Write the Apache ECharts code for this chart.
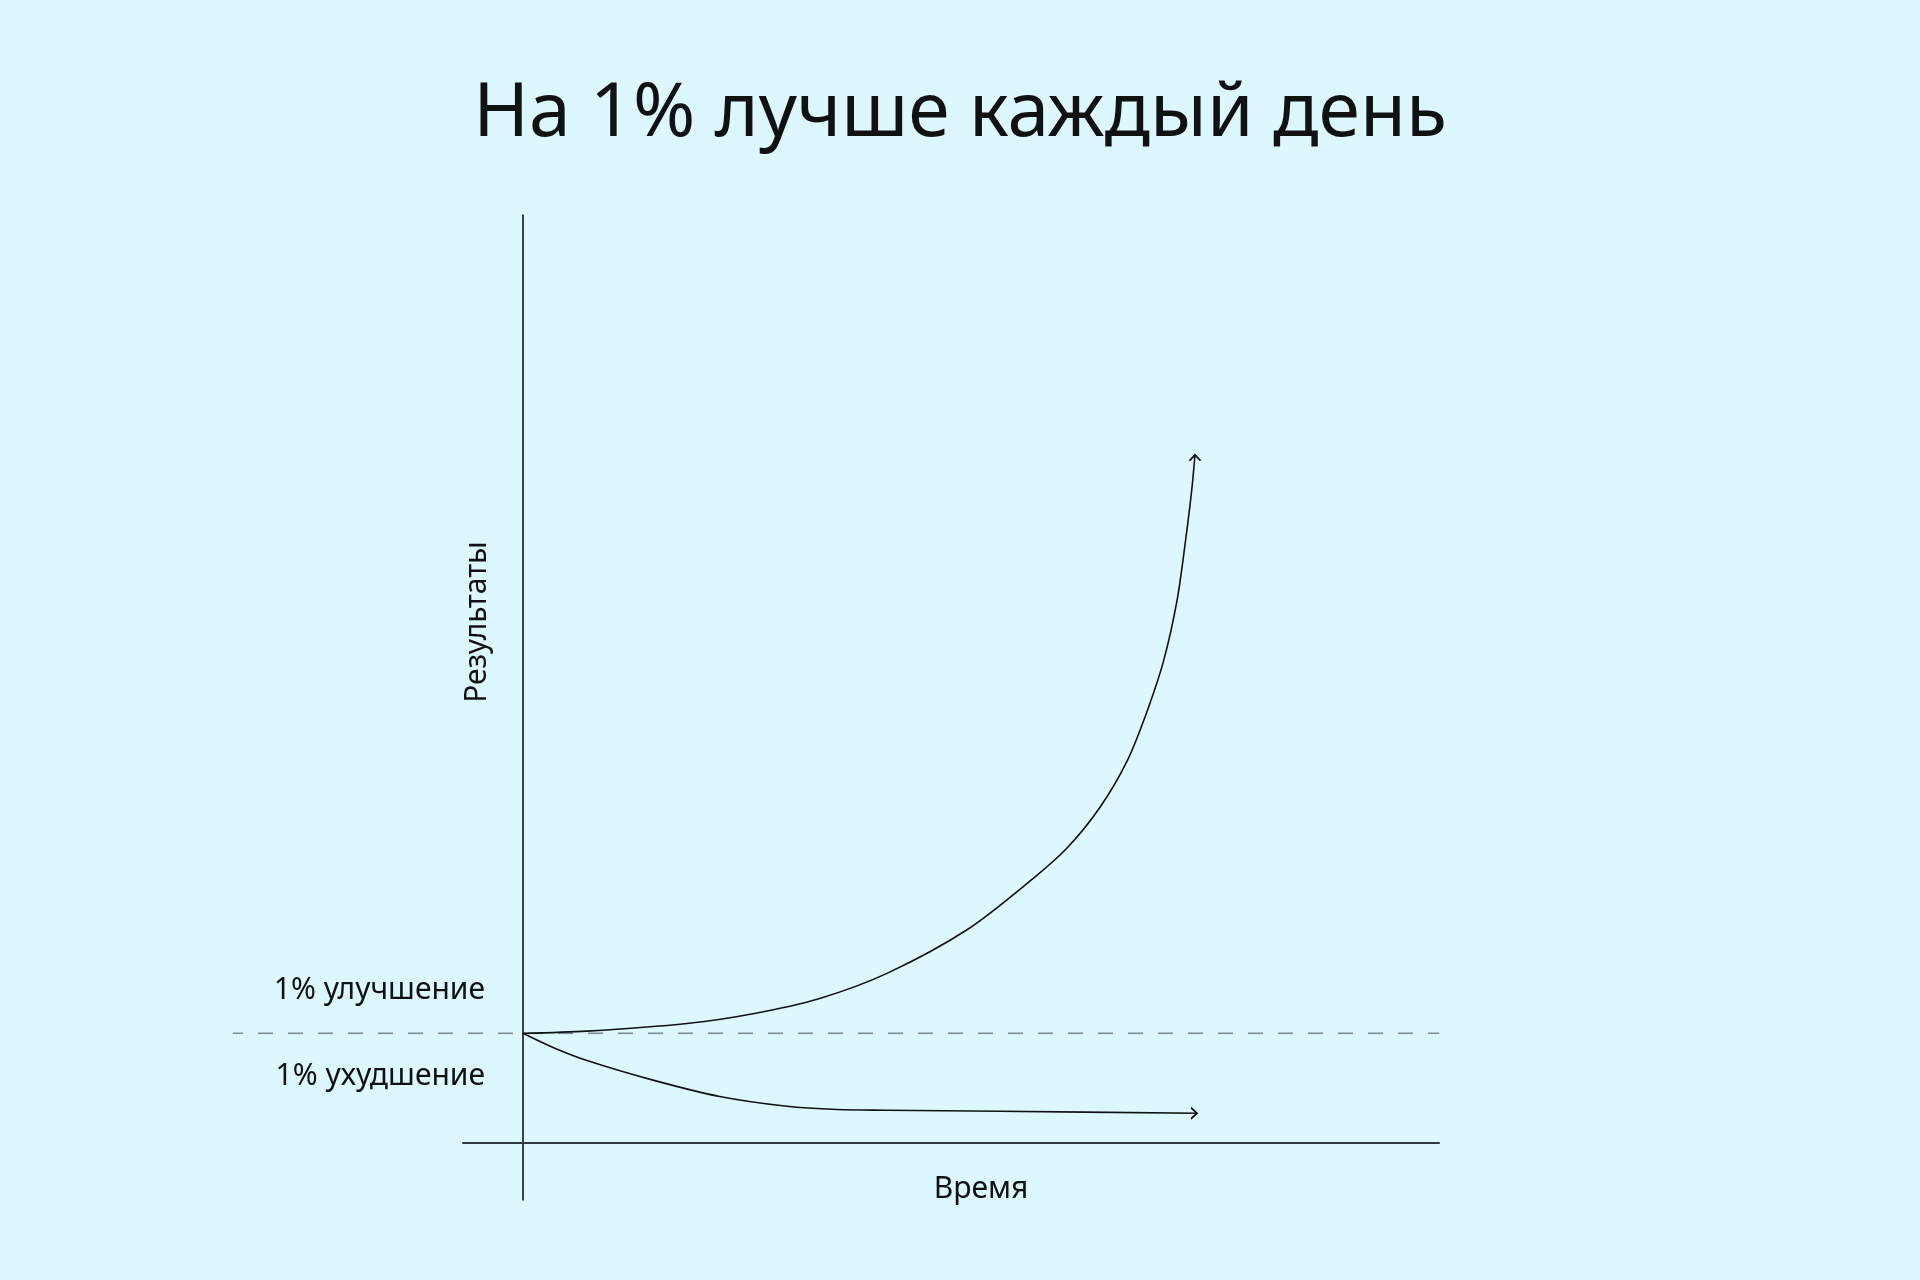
<!DOCTYPE html>
<html>
<head>
<meta charset="utf-8">
<title>На 1% лучше каждый день</title>
<script src="https://cdn.jsdelivr.net/npm/echarts@6/dist/echarts.min.js"></script>
<style>
    html, body { margin: 0; padding: 0; background: #dcf7fe; }
    #chart { width: 1920px; height: 1280px; }
</style>
</head>
<body>
<div id="chart"></div>
<script>
// время (условные единицы), кривая идёт от 0 до ~101
const upTime = [0, 9.6, 24.6, 34.5, 44.5, 54.6, 66.6, 76.5, 81.6, 86.5, 90.7, 93.7, 96.1, 98.1, 99.4, 100.3, 100.8];
const upValue = [1.0, 1.02, 1.09, 1.18, 1.32, 1.55, 1.95, 2.42, 2.70, 3.07, 3.51, 3.97, 4.42, 4.97, 5.53, 5.98, 6.31];

const downTime = [0, 4.5, 9.6, 19.5, 29.5, 39.6, 47.1, 54.6, 71.5, 101.1];
const downValue = [1.0, 0.87, 0.75, 0.57, 0.42, 0.33, 0.30, 0.294, 0.284, 0.266];

// базовый уровень (пунктир), на отдельной сетке шире основной
const baseTime = [0, 1];
const baseValue = [1, 1];

const labelUp = '1% улучшение';
const labelDown = '1% ухудшение';

function pairs(xs, ys) {
    return xs.map((x, i) => [x, ys[i]]);
}

const ink = '#111';
const font = 'Noto Sans';
const yMin = -0.53, yMax = 8.51;

const upData = pairs(upTime, upValue);
upData[upData.length - 1] = {
    value: upData[upData.length - 1],
    symbol: 'path://M0,6 L5.5,0 L11,6',
    symbolSize: [11, 6],
    symbolOffset: [0, 3],
    itemStyle: { color: 'none', borderColor: ink, borderWidth: 1.6 }
};
const downData = pairs(downTime, downValue);
downData[downData.length - 1] = {
    value: downData[downData.length - 1],
    symbol: 'path://M0,0 L6,5.5 L0,11',
    symbolSize: [6, 11],
    symbolOffset: [-3, 0],
    itemStyle: { color: 'none', borderColor: ink, borderWidth: 1.6 }
};

const hidden = {
    axisLine: { show: false },
    axisTick: { show: false },
    axisLabel: { show: false },
    splitLine: { show: false }
};

const myChart = echarts.init(document.getElementById('chart'));
const option = {
    backgroundColor: '#dcf7fe',
    animation: false,
    title: {
        text: 'На 1% лучше каждый день',
        left: 'center',
        top: 72,
        textStyle: { fontFamily: font, fontSize: 75, fontWeight: 400, color: ink }
    },
    grid: [
        { left: 463, right: 481, top: 215, bottom: 80 },
        { left: 233, right: 481, top: 215, bottom: 80 }
    ],
    xAxis: [
        {
            type: 'value',
            min: -9,
            max: 137.4,
            axisLine: { show: true, onZero: true, lineStyle: { color: '#2b3a3b', width: 2 } },
            axisTick: { show: false },
            axisLabel: { show: false },
            splitLine: { show: false }
        },
        Object.assign({ type: 'value', gridIndex: 1, min: 0, max: 1 }, hidden)
    ],
    yAxis: [
        {
            type: 'value',
            min: yMin,
            max: yMax,
            axisLine: { show: true, onZero: true, lineStyle: { color: ink, width: 1.6 } },
            axisTick: { show: false },
            axisLabel: { show: false },
            splitLine: { show: false }
        },
        Object.assign({ type: 'value', gridIndex: 1, min: yMin, max: yMax }, hidden)
    ],
    series: [
        {
            name: 'base',
            type: 'line',
            xAxisIndex: 1,
            yAxisIndex: 1,
            silent: true,
            symbol: 'none',
            data: pairs(baseTime, baseValue),
            lineStyle: { color: '#7d8c8e', width: 1.6, type: [15, 15], dashOffset: 5 }
        },
        {
            name: 'up',
            type: 'line',
            clip: false,
            silent: true,
            symbol: 'none',
            smooth: 0.3,
            data: upData,
            lineStyle: { color: ink, width: 1.6 }
        },
        {
            name: 'down',
            type: 'line',
            clip: false,
            silent: true,
            symbol: 'none',
            smooth: 0.3,
            data: downData,
            lineStyle: { color: ink, width: 1.6 }
        }
    ],
    graphic: [
        {
            type: 'text', x: 485, y: 990,
            style: { text: labelUp, fontFamily: font, fontSize: 30, fill: ink, align: 'right', verticalAlign: 'middle' }
        },
        {
            type: 'text', x: 485, y: 1076,
            style: { text: labelDown, fontFamily: font, fontSize: 30, fill: ink, align: 'right', verticalAlign: 'middle' }
        },
        {
            type: 'text', x: 477, y: 622, rotation: Math.PI / 2,
            style: { text: 'Результаты', fontFamily: font, fontSize: 30, fill: ink, align: 'center', verticalAlign: 'middle' }
        },
        {
            type: 'text', x: 981, y: 1189,
            style: { text: 'Время', fontFamily: font, fontSize: 30, fill: ink, align: 'center', verticalAlign: 'middle' }
        }
    ]
};
myChart.setOption(option);
</script>
</body>
</html>
